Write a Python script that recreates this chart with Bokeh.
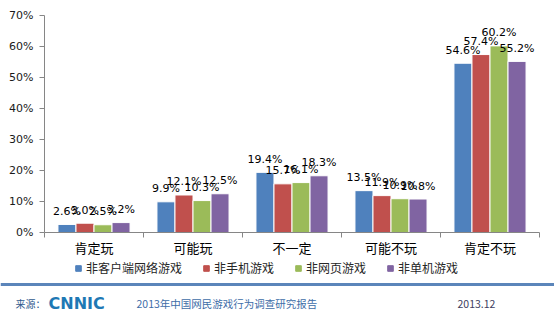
from bokeh.plotting import figure
from bokeh.layouts import column
from bokeh.models import (FixedTicker, ColumnDataSource, Legend, LegendItem,
                          Span, Label)
from bokeh.core.properties import value
from bokeh.embed import file_html
from bokeh.resources import INLINE

# ---------------- data ----------------
categories = ["肯定玩", "可能玩", "不一定", "可能不玩", "肯定不玩"]
series_names = ["非客户端网络游戏", "非手机游戏", "非网页游戏", "非单机游戏"]
client_net = [2.6, 9.9, 19.4, 13.5, 54.6]
mobile = [3.0, 12.1, 15.7, 11.9, 57.4]
web = [2.5, 10.3, 16.1, 10.9, 60.2]
single = [3.2, 12.5, 18.3, 10.8, 55.2]
y_ticks = [0, 10, 20, 30, 40, 50, 60, 70]
y_tick_labels = ["0%", "10%", "20%", "30%", "40%", "50%", "60%", "70%"]
source_text = "来源："
logo_text = "CNNIC"
report_title = "2013年中国网民游戏行为调查研究报告"
report_date = "2013.12"

series_values = [client_net, mobile, web, single]
colors = ["#4F81BD", "#C0504D", "#9BBB59", "#8064A2"]

BAR_W = 0.182
MAIN_H = 259
FOOT_H = 323 - MAIN_H
FRAME_B = 232

p = figure(width=554, height=MAIN_H, x_range=(0, len(categories)), y_range=(0, 70),
           output_backend="svg", toolbar_location=None,
           min_border_left=44, min_border_right=15, min_border_top=15,
           min_border_bottom=MAIN_H - FRAME_B)
p.outline_line_color = None
p.xgrid.visible = False
p.ygrid.visible = False
p.background_fill_color = "white"

renderers = []
for j, (vals, col) in enumerate(zip(series_values, colors)):
    xs = [i + 0.5 + (j - 1.5) * BAR_W for i in range(len(categories))]
    src = ColumnDataSource(dict(x=xs, top=vals,
                                lab=["%.1f%%" % v for v in vals]))
    r = p.vbar(x="x", top="top", width=BAR_W, source=src, fill_color=col,
               line_color="white", line_width=1)
    renderers.append((r, src))

for r, src in renderers:
    p.text(x="x", y="top", text="lab", source=src, text_align="center",
           text_baseline="middle", y_offset=-13,
           text_font=value("DejaVu Sans"), text_font_size="11px",
           text_color="#000000")

# x axis: labels at category centres, ticks at boundaries
xa = p.xaxis[0]
xa.ticker = FixedTicker(ticks=[i + 0.5 for i in range(len(categories))],
                        minor_ticks=list(range(len(categories) + 1)))
xa.major_label_overrides = {i + 0.5: c for i, c in enumerate(categories)}
xa.major_tick_out = 0
xa.major_tick_in = 0
xa.minor_tick_out = 5
xa.minor_tick_in = 0
xa.minor_tick_line_color = "#868686"
xa.axis_line_color = "#868686"
xa.major_label_text_font = "Noto Sans CJK SC"
xa.major_label_text_font_size = "13px"
xa.major_label_text_color = "#000000"
xa.major_label_standoff = 0

ya = p.yaxis[0]
ya.ticker = FixedTicker(ticks=y_ticks, minor_ticks=[])
ya.major_label_overrides = {t: l for t, l in zip(y_ticks, y_tick_labels)}
ya.major_tick_out = 5
ya.major_tick_in = 0
ya.minor_tick_out = 0
ya.minor_tick_in = 0
ya.major_tick_line_color = "#868686"
ya.axis_line_color = "#868686"
ya.major_label_text_font = "DejaVu Sans"
ya.major_label_text_font_size = "11px"
ya.major_label_text_color = "#1a1a1a"
ya.major_label_standoff = 6

# ---------------- footer with legend ----------------
f = figure(width=554, height=FOOT_H, x_range=(0, 554), y_range=(0, FOOT_H),
           output_backend="svg", toolbar_location=None,
           x_axis_location=None, y_axis_location=None,
           min_border=0)
f.outline_line_color = None
f.xgrid.visible = False
f.ygrid.visible = False

for fig in (p, f):
    if "frame_align" in fig.properties():
        fig.frame_align = False

items = []
for name, col in zip(series_names, colors):
    d = f.scatter(x=[-100], y=[-100], marker="square", size=6,
                  fill_color=col, line_color=col)
    items.append(LegendItem(label=name, renderers=[d]))

leg = Legend(items=items, location=(71, 323 - 276), orientation="horizontal",
             glyph_width=14, glyph_height=14, label_height=14,
             label_standoff=1, spacing=17, padding=0, margin=0,
             border_line_alpha=0, background_fill_alpha=0,
             label_text_font="Noto Sans CJK SC", label_text_font_size="12px",
             label_text_color="#262626", label_text_baseline="middle")
f.add_layout(leg)

f.add_layout(Span(location=323 - 284, dimension="width", line_color="#5B85BA",
                  line_width=3))

f.add_layout(Label(x=15, y=20, text=source_text, text_baseline="middle",
                   text_font="Noto Sans CJK SC", text_font_size="10px",
                   text_color="#2F5A8E"))
f.add_layout(Label(x=48, y=20, text=logo_text, text_baseline="middle",
                   text_font="DejaVu Sans", text_font_size="16px",
                   text_font_style="bold", text_color="#1E78B4"))
f.add_layout(Label(x=136, y=20, text=report_title, text_baseline="middle",
                   text_font="Noto Sans CJK SC", text_font_size="10.5px",
                   text_color="#3E6DA8"))
f.add_layout(Label(x=457, y=20, text=report_date, text_baseline="middle",
                   text_font="Noto Sans CJK SC", text_font_size="10.5px",
                   text_color="#404060"))

layout = column(p, f, spacing=0)
open("out.html", "w").write(file_html(layout, INLINE))
